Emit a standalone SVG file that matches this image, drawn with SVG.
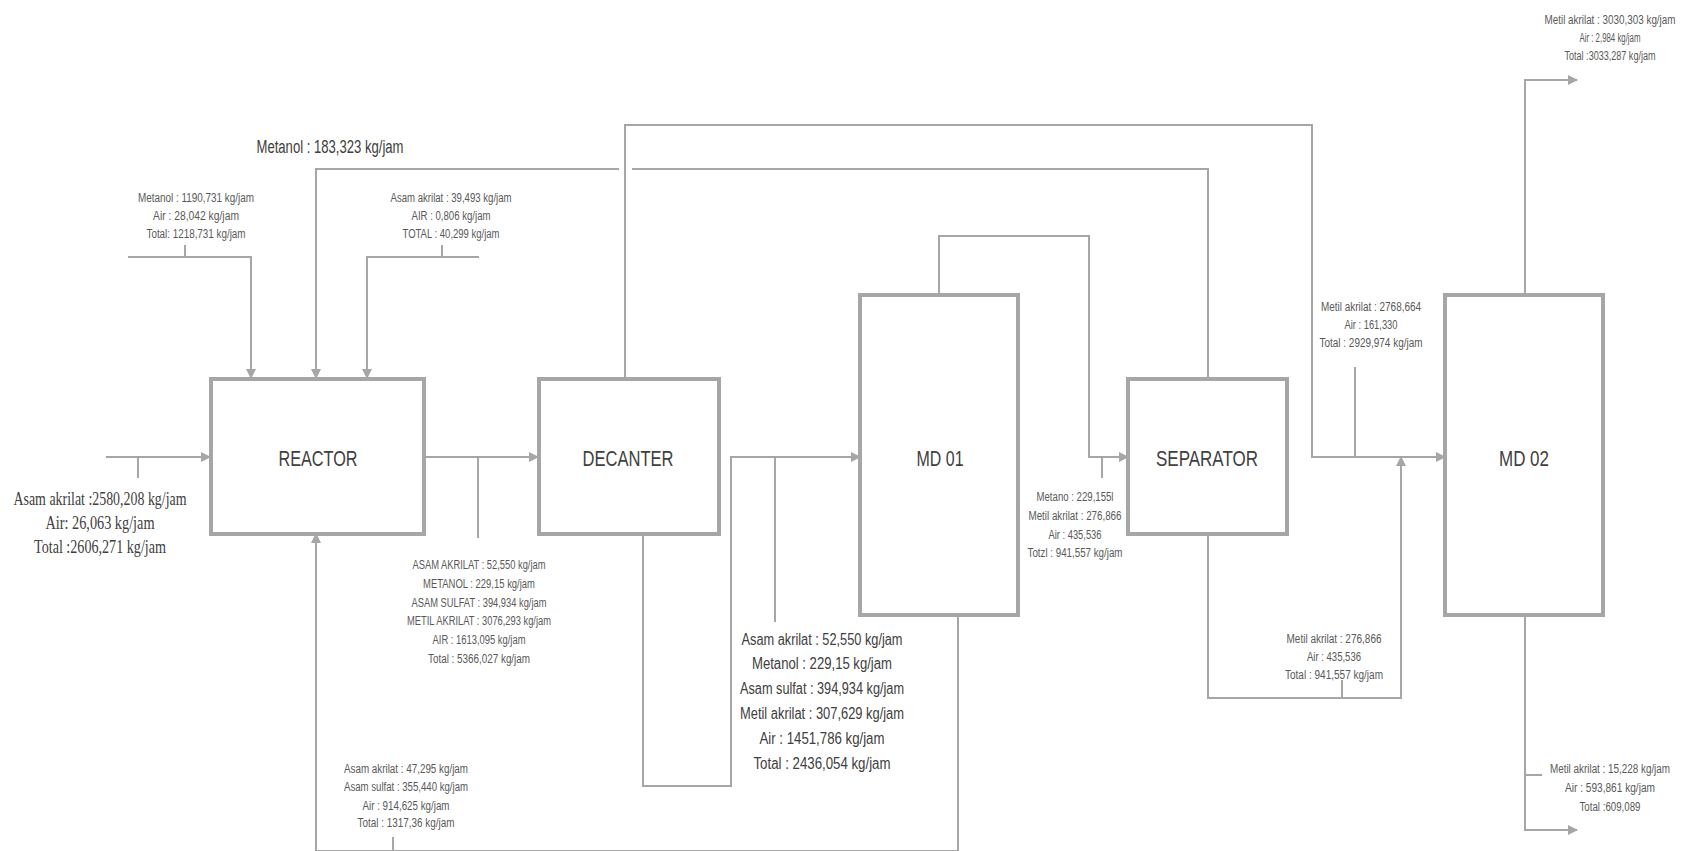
<svg xmlns="http://www.w3.org/2000/svg" width="1697" height="851" viewBox="0 0 1697 851">
<style>
.box{fill:#fff;stroke:#a6a6a6;stroke-width:4}
.ln{fill:none;stroke:#a6a6a6;stroke-width:2}
.bl{font-family:"Liberation Sans",Arial,sans-serif;font-size:22px;fill:#404040;text-anchor:middle}
.s{font-family:"Liberation Sans",Arial,sans-serif;font-size:12px;fill:#595959;text-anchor:middle}
.m{font-family:"Liberation Sans",Arial,sans-serif;font-size:16px;fill:#404040;text-anchor:middle}
.sf{font-family:"Liberation Serif","Times New Roman",serif;font-size:18px;fill:#404040;text-anchor:middle}
</style>
<defs>
<marker id="ar" markerWidth="10" markerHeight="10" refX="9" refY="5" orient="auto" markerUnits="userSpaceOnUse">
<path d="M0,0 L10,5 L0,10 Z" fill="#a6a6a6"/>
</marker>
</defs>
<rect width="1697" height="851" fill="#fff"/>
<g id="connectors">
<path class="ln" d="M106,457 H210" marker-end="url(#ar)"/>
<path class="ln" d="M138,457 V478"/>
<path class="ln" d="M128,257 H251 V378" marker-end="url(#ar)"/>
<path class="ln" d="M185,245 V257"/>
<path class="ln" d="M479,257 H367 V378" marker-end="url(#ar)"/>
<path class="ln" d="M442,245 V257"/>
<path class="ln" d="M1208,378 V169 H632"/>
<path class="ln" d="M619,169 H316 V378" marker-end="url(#ar)"/>
<path class="ln" d="M625,378 V125 H1312 V457 H1445" marker-end="url(#ar)"/>
<path class="ln" d="M424,457 H538" marker-end="url(#ar)"/>
<path class="ln" d="M478,457 V538"/>
<path class="ln" d="M643,534 V786 H731 V457 H860" marker-end="url(#ar)"/>
<path class="ln" d="M775,457 V622"/>
<path class="ln" d="M939,294 V236 H1089 V457 H1128" marker-end="url(#ar)"/>
<path class="ln" d="M1102,457 V478"/>
<path class="ln" d="M958,615 V851 H316 V534" marker-end="url(#ar)"/>
<path class="ln" d="M393,837 V851"/>
<path class="ln" d="M1208,534 V698 H1401 V457" marker-end="url(#ar)"/>
<path class="ln" d="M1342,680 V698"/>
<path class="ln" d="M1355,367 V457"/>
<path class="ln" d="M1525,294 V80 H1577" marker-end="url(#ar)"/>
<path class="ln" d="M1525,615 V830 H1577" marker-end="url(#ar)"/>
<path class="ln" d="M1525,775 H1542"/>
</g>
<g id="reactor"><rect class="box" x="211" y="379" width="213" height="155"/><text class="bl" x="318" y="466" textLength="79" lengthAdjust="spacingAndGlyphs">REACTOR</text></g>
<g id="decanter"><rect class="box" x="539" y="379" width="180" height="155"/><text class="bl" x="628" y="466" textLength="91" lengthAdjust="spacingAndGlyphs">DECANTER</text></g>
<g id="md01"><rect class="box" x="860" y="295" width="158" height="320"/><text class="bl" x="940" y="466" textLength="47" lengthAdjust="spacingAndGlyphs">MD 01</text></g>
<g id="separator"><rect class="box" x="1128" y="379" width="159" height="155"/><text class="bl" x="1207" y="466" textLength="102" lengthAdjust="spacingAndGlyphs">SEPARATOR</text></g>
<g id="md02"><rect class="box" x="1445" y="295" width="158" height="320"/><text class="bl" x="1524" y="466" textLength="50" lengthAdjust="spacingAndGlyphs">MD 02</text></g>
<g id="labels">
<text class="sf" x="100" y="505" textLength="173" lengthAdjust="spacingAndGlyphs">Asam akrilat :2580,208 kg/jam</text>
<text class="sf" x="100" y="529" textLength="109" lengthAdjust="spacingAndGlyphs">Air: 26,063 kg/jam</text>
<text class="sf" x="100" y="553" textLength="132" lengthAdjust="spacingAndGlyphs">Total :2606,271 kg/jam</text>
<text class="s" x="196" y="202" textLength="116" lengthAdjust="spacingAndGlyphs">Metanol : 1190,731 kg/jam</text>
<text class="s" x="196" y="220" textLength="86" lengthAdjust="spacingAndGlyphs">Air : 28,042 kg/jam</text>
<text class="s" x="196" y="238" textLength="99" lengthAdjust="spacingAndGlyphs">Total: 1218,731 kg/jam</text>
<text class="s" x="451" y="202" textLength="121" lengthAdjust="spacingAndGlyphs">Asam akrilat : 39,493 kg/jam</text>
<text class="s" x="451" y="220" textLength="79" lengthAdjust="spacingAndGlyphs">AIR : 0,806 kg/jam</text>
<text class="s" x="451" y="238" textLength="97" lengthAdjust="spacingAndGlyphs">TOTAL : 40,299 kg/jam</text>
<text class="m" x="330" y="153" style="font-size:18px" textLength="147" lengthAdjust="spacingAndGlyphs">Metanol : 183,323 kg/jam</text>
<text class="s" x="479" y="569" textLength="133" lengthAdjust="spacingAndGlyphs">ASAM AKRILAT : 52,550 kg/jam</text>
<text class="s" x="479" y="588" textLength="112" lengthAdjust="spacingAndGlyphs">METANOL : 229,15 kg/jam</text>
<text class="s" x="479" y="607" textLength="135" lengthAdjust="spacingAndGlyphs">ASAM SULFAT : 394,934 kg/jam</text>
<text class="s" x="479" y="625" textLength="144" lengthAdjust="spacingAndGlyphs">METIL AKRILAT : 3076,293 kg/jam</text>
<text class="s" x="479" y="644" textLength="93" lengthAdjust="spacingAndGlyphs">AIR : 1613,095 kg/jam</text>
<text class="s" x="479" y="663" textLength="102" lengthAdjust="spacingAndGlyphs">Total : 5366,027 kg/jam</text>
<text class="s" x="406" y="773" textLength="124" lengthAdjust="spacingAndGlyphs">Asam akrilat :  47,295 kg/jam</text>
<text class="s" x="406" y="791" textLength="124" lengthAdjust="spacingAndGlyphs">Asam sulfat : 355,440 kg/jam</text>
<text class="s" x="406" y="810" textLength="87" lengthAdjust="spacingAndGlyphs">Air : 914,625 kg/jam</text>
<text class="s" x="406" y="827" textLength="97" lengthAdjust="spacingAndGlyphs">Total : 1317,36 kg/jam</text>
<text class="m" x="822" y="645" textLength="161" lengthAdjust="spacingAndGlyphs">Asam akrilat : 52,550 kg/jam</text>
<text class="m" x="822" y="669" textLength="140" lengthAdjust="spacingAndGlyphs">Metanol : 229,15 kg/jam</text>
<text class="m" x="822" y="694" textLength="164" lengthAdjust="spacingAndGlyphs">Asam sulfat : 394,934 kg/jam</text>
<text class="m" x="822" y="719" textLength="164" lengthAdjust="spacingAndGlyphs">Metil akrilat : 307,629 kg/jam</text>
<text class="m" x="822" y="744" textLength="125" lengthAdjust="spacingAndGlyphs">Air : 1451,786 kg/jam</text>
<text class="m" x="822" y="769" textLength="137" lengthAdjust="spacingAndGlyphs">Total : 2436,054 kg/jam</text>
<text class="s" x="1075" y="501" textLength="77" lengthAdjust="spacingAndGlyphs">Metano : 229,155l</text>
<text class="s" x="1075" y="520" textLength="93" lengthAdjust="spacingAndGlyphs">Metil akrilat : 276,866</text>
<text class="s" x="1075" y="539" textLength="53" lengthAdjust="spacingAndGlyphs">Air : 435,536</text>
<text class="s" x="1075" y="557" textLength="95" lengthAdjust="spacingAndGlyphs">Totzl : 941,557 kg/jam</text>
<text class="s" x="1371" y="311" textLength="100" lengthAdjust="spacingAndGlyphs">Metil akrilat : 2768,664</text>
<text class="s" x="1371" y="329" textLength="53" lengthAdjust="spacingAndGlyphs">Air : 161,330</text>
<text class="s" x="1371" y="347" textLength="103" lengthAdjust="spacingAndGlyphs">Total : 2929,974 kg/jam</text>
<text class="s" x="1334" y="643" textLength="95" lengthAdjust="spacingAndGlyphs">Metil akrilat : 276,866</text>
<text class="s" x="1334" y="661" textLength="54" lengthAdjust="spacingAndGlyphs">Air : 435,536</text>
<text class="s" x="1334" y="679" textLength="98" lengthAdjust="spacingAndGlyphs">Total : 941,557 kg/jam</text>
<text class="s" x="1610" y="24" textLength="131" lengthAdjust="spacingAndGlyphs">Metil akrilat : 3030,303 kg/jam</text>
<text class="s" x="1610" y="42" textLength="61" lengthAdjust="spacingAndGlyphs">Air : 2,984 kg/jam</text>
<text class="s" x="1610" y="60" textLength="91" lengthAdjust="spacingAndGlyphs">Total :3033,287 kg/jam</text>
<text class="s" x="1610" y="773" textLength="120" lengthAdjust="spacingAndGlyphs">Metil akrilat : 15,228 kg/jam</text>
<text class="s" x="1610" y="792" textLength="90" lengthAdjust="spacingAndGlyphs">Air : 593,861 kg/jam</text>
<text class="s" x="1610" y="811" textLength="61" lengthAdjust="spacingAndGlyphs">Total :609,089</text>
</g>
</svg>
